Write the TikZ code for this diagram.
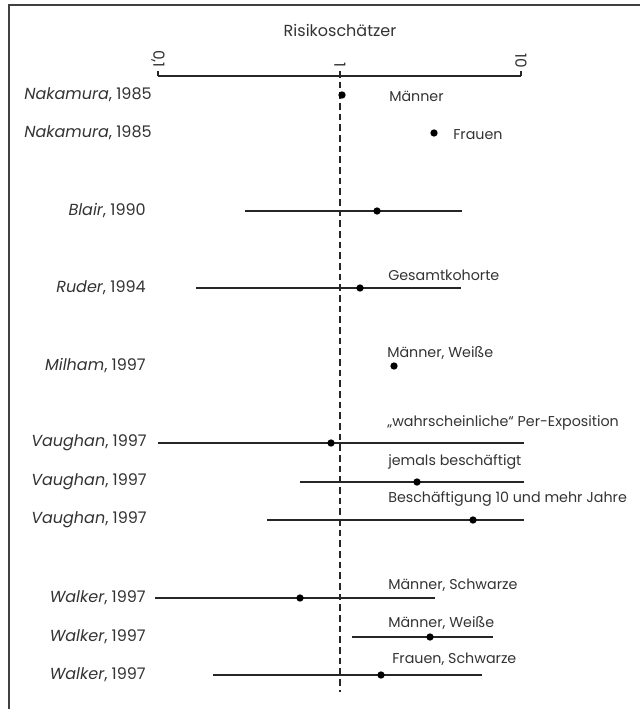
\documentclass[tikz,border=0pt]{standalone}
\usepackage{fontspec}
\setmainfont{Poppins}
\begin{document}
\begin{tikzpicture}[x=0.75pt,y=-0.75pt,
  txt/.style={font=\fontsize{10.7}{12}\selectfont, text=black!80, inner sep=0pt},
  big/.style={txt, font=\fontsize{12}{14}\selectfont},
  lbl/.style={big, anchor=east},
  note/.style={txt, anchor=west},
  tick/.style={txt, font=\fontsize{11.5}{13}\selectfont, rotate=-90, anchor=east},
  ci/.style={line width=1pt, black!85},
  est/.style={circle, fill=black, inner sep=0pt, minimum size=5.5pt},
  frame/.style={line width=1.1pt, black!75}]
\useasboundingbox (0,0) rectangle (640,709);
% frame
\coordinate (ftr) at (640,5);
\coordinate (ftl) at (9,5);
\coordinate (fbl) at (9,709);
\draw[frame] (ftr) -- (ftl) -- (fbl);
% title and axis
\node[big] (title) at (340,30) {Risikoschätzer};
\coordinate (a0) at (158,76);
\coordinate (a1) at (340,76);
\coordinate (a2) at (521,76);
\draw[ci] (a0) -- (a2);
\draw[ci] (a0) -- ++(0,-5) (a1) -- ++(0,-5) (a2) -- ++(0,-5);
\node[tick] (t0) at (158,68) {0,1};
\node[tick] (t1) at (340,68) {1};
\node[tick] (t2) at (521,68) {10};
\coordinate (dtop) at (340,71);
\coordinate (dbot) at (340,692);
\draw[line width=1pt, black!85, dash pattern=on 5pt off 3pt] (dtop) -- (dbot);
% rows
\node[lbl] (l1) at (152,95) {\textit{Nakamura}, 1985};
\node[est] (p1) at (342,95) {};
\node[note] (n1) at (389,96) {Männer};

\node[lbl] (l2) at (152,133) {\textit{Nakamura}, 1985};
\node[est] (p2) at (434,133) {};
\node[note] (n2) at (453,135) {Frauen};

\node[lbl] (l3) at (146,211) {\textit{Blair}, 1990};
\coordinate (b3a) at (245,211); \coordinate (b3b) at (462,211);
\draw[ci] (b3a) -- (b3b);
\node[est] (p3) at (377,211) {};

\node[lbl] (l4) at (146,288) {\textit{Ruder}, 1994};
\coordinate (b4a) at (196,288); \coordinate (b4b) at (461,288);
\draw[ci] (b4a) -- (b4b);
\node[est] (p4) at (360,288) {};
\node[note] (n4) at (388,275) {Gesamtkohorte};

\node[lbl] (l5) at (146,366) {\textit{Milham}, 1997};
\node[est] (p5) at (394,366) {};
\node[note] (n5) at (387,353) {Männer, Weiße};

\node[lbl] (l6) at (147,443) {\textit{Vaughan}, 1997};
\coordinate (b6a) at (158,443); \coordinate (b6b) at (524,443);
\draw[ci] (b6a) -- (b6b);
\node[est] (p6) at (331,443) {};
\node[note] (n6) at (387,423) {„wahrscheinliche“ Per-Exposition};

\node[lbl] (l7) at (147,482) {\textit{Vaughan}, 1997};
\coordinate (b7a) at (300,482); \coordinate (b7b) at (524,482);
\draw[ci] (b7a) -- (b7b);
\node[est] (p7) at (417,482) {};
\node[note] (n7) at (388,462) {jemals beschäftigt};

\node[lbl] (l8) at (147,520) {\textit{Vaughan}, 1997};
\coordinate (b8a) at (267,520); \coordinate (b8b) at (524,520);
\draw[ci] (b8a) -- (b8b);
\node[est] (p8) at (473,520) {};
\node[note] (n8) at (388,499) {Beschäftigung 10 und mehr Jahre};

\node[lbl] (l9) at (146,598) {\textit{Walker}, 1997};
\coordinate (b9a) at (155,598); \coordinate (b9b) at (435,598);
\draw[ci] (b9a) -- (b9b);
\node[est] (p9) at (300,598) {};
\node[note] (n9) at (388,585) {Männer, Schwarze};

\node[lbl] (l10) at (146,637) {\textit{Walker}, 1997};
\coordinate (b10a) at (352,637); \coordinate (b10b) at (493,637);
\draw[ci] (b10a) -- (b10b);
\node[est] (p10) at (430,637) {};
\node[note] (n10) at (388,623) {Männer, Weiße};

\node[lbl] (l11) at (146,675) {\textit{Walker}, 1997};
\coordinate (b11a) at (213,675); \coordinate (b11b) at (482,675);
\draw[ci] (b11a) -- (b11b);
\node[est] (p11) at (381,675) {};
\node[note] (n11) at (392,659) {Frauen, Schwarze};
\end{tikzpicture}
\end{document}
